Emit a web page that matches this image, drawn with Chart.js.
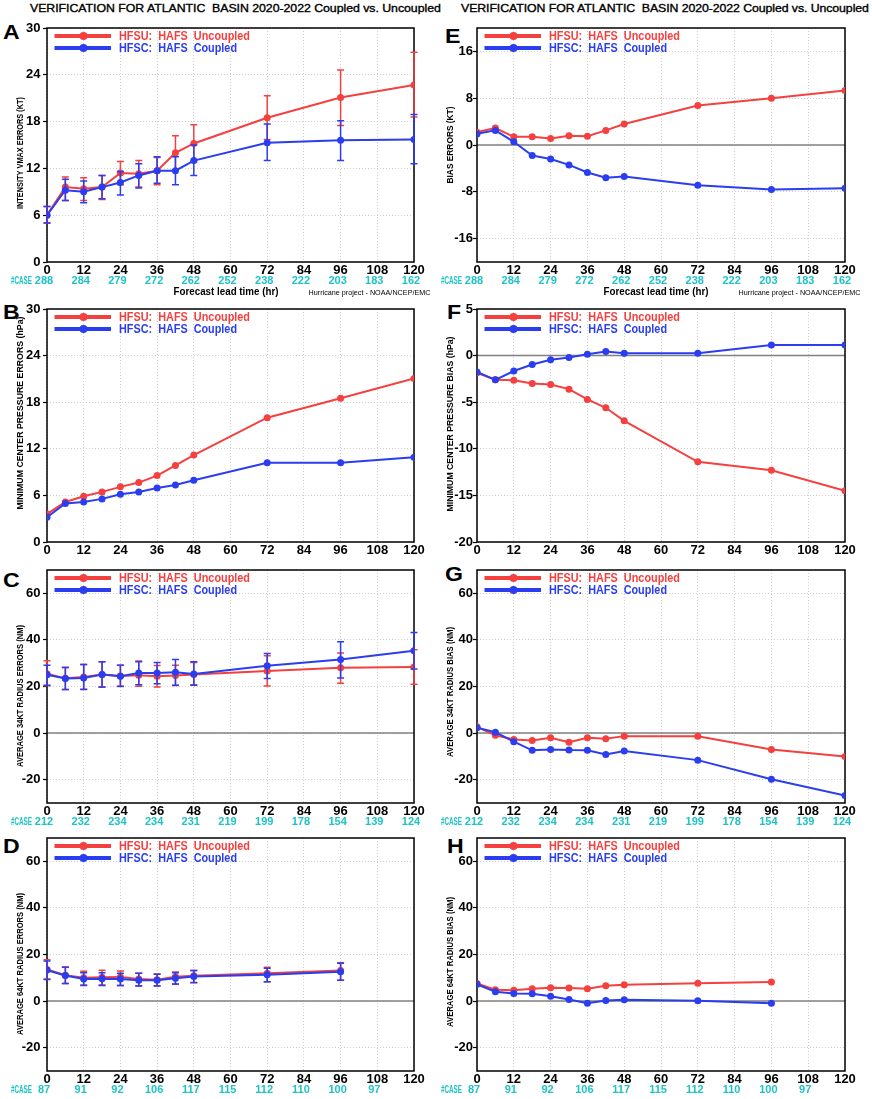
<!DOCTYPE html>
<html>
<head>
<meta charset="utf-8">
<script src="https://cdn.jsdelivr.net/npm/chart.js@4.4.1/dist/chart.umd.min.js"></script>
<style>
  body { margin: 0; background: #fff; width: 872px; height: 1099px; position: relative; overflow: hidden; font-family: "Liberation Sans", Arial, sans-serif; }
  .pane { position: absolute; }
  .title { position: absolute; top: 2.5px; font-size: 11px; line-height: 11px; white-space: pre; color: #000; transform-origin: 0 0; transform: scaleX(1.12); -webkit-text-stroke: 0.35px #000; }
  .tag { position: absolute; font-weight: bold; font-size: 21px; line-height: 21px; transform-origin: 0 0; transform: scaleX(1.1); }
</style>
</head>
<body>
<div class="title" id="t0" style="left:30px">VERIFICATION FOR ATLANTIC  BASIN 2020-2022 Coupled vs. Uncoupled</div>
<div class="title" id="t1" style="left:461px">VERIFICATION FOR ATLANTIC  BASIN 2020-2022 Coupled vs. Uncoupled</div>
<div class="tag" style="left:3px;top:20.5px">A</div>
<div class="tag" style="left:3px;top:301px">B</div>
<div class="tag" style="left:3px;top:569px">C</div>
<div class="tag" style="left:3px;top:834.5px">D</div>
<div class="tag" style="left:445px;top:25px">E</div>
<div class="tag" style="left:447px;top:301px">F</div>
<div class="tag" style="left:445px;top:563px">G</div>
<div class="tag" style="left:447px;top:834.5px">H</div>
<script>
// forecast hours and case counts
var hours = [0, 6, 12, 18, 24, 30, 36, 42, 48, 72, 96, 120];
var xTicks = [0, 12, 24, 36, 48, 60, 72, 84, 96, 108, 120];
var casesAE = [288, 284, 279, 272, 262, 252, 238, 222, 203, 183, 162];
var casesCG = [212, 232, 234, 234, 231, 219, 199, 178, 154, 139, 124];
var casesDH = [87, 91, 92, 106, 117, 115, 112, 110, 100, 97];

// y tick labels
var ticksErr = [0, 6, 12, 18, 24, 30];
var ticksBiasKt = [-16, -8, 0, 8, 16];
var ticksBiasHpa = [-20, -15, -10, -5, 0, 5];
var ticksRadius = [-20, 0, 20, 40, 60];

// A: intensity vmax errors (kt)
var vmaxErrU   = [6.0, 9.6, 9.4, 9.6, 11.4, 11.3, 11.7, 14.0, 15.2, 18.5, 21.1, 22.7];
var vmaxErrUHi = [7.1, 10.9, 10.8, 11.1, 12.9, 13.0, 13.4, 16.2, 17.6, 21.3, 24.6, 26.9];
var vmaxErrULo = [5.0, 7.9, 7.9, 8.0, 9.9, 9.6, 9.9, 11.8, 12.8, 15.7, 17.5, 18.6];
var vmaxErrC   = [6.0, 9.2, 9.0, 9.6, 10.2, 11.1, 11.7, 11.7, 13.0, 15.3, 15.6, 15.7];
var vmaxErrCHi = [7.1, 10.6, 10.4, 11.1, 11.6, 12.6, 13.5, 13.5, 15.0, 17.7, 18.1, 18.9];
var vmaxErrCLo = [5.0, 7.9, 7.6, 8.1, 8.6, 9.5, 10.1, 9.9, 11.1, 13.0, 13.0, 12.6];

// E: intensity bias (kt)
var vmaxBiasU = [2.2, 2.9, 1.4, 1.4, 1.1, 1.6, 1.5, 2.5, 3.6, 6.75, 8.0, 9.3];
var vmaxBiasC = [1.9, 2.5, 0.55, -1.8, -2.4, -3.4, -4.7, -5.6, -5.4, -6.9, -7.6, -7.4];

// B: min pressure errors (hPa)
var pminErrU = [3.6, 5.15, 5.9, 6.45, 7.1, 7.65, 8.55, 9.85, 11.2, 16.0, 18.5, 21.05];
var pminErrC = [3.2, 4.95, 5.15, 5.55, 6.15, 6.45, 6.95, 7.35, 7.95, 10.2, 10.2, 10.9];

// F: min pressure bias (hPa)
var pminBiasU = [-1.85, -2.6, -2.65, -3.0, -3.1, -3.6, -4.7, -5.6, -7.0, -11.4, -12.3, -14.5];
var pminBiasC = [-1.75, -2.6, -1.65, -0.95, -0.45, -0.2, 0.15, 0.45, 0.25, 0.25, 1.15, 1.15];

// C: 34kt radius errors (nm)
var r34ErrU   = [25.5, 23.5, 24.1, 25.1, 24.5, 24.8, 24.4, 24.7, 25.1, 26.7, 28.0, 28.4];
var r34ErrUHi = [31.0, 28.1, 29.4, 30.6, 29.1, 30.9, 29.0, 29.1, 30.3, 33.2, 34.4, 35.8];
var r34ErrULo = [20.3, 18.7, 18.8, 19.7, 20.0, 20.1, 19.8, 20.4, 20.8, 20.2, 21.4, 21.0];
var r34ErrC   = [25.0, 23.4, 23.7, 25.1, 24.4, 25.8, 25.8, 26.1, 25.4, 28.9, 31.6, 35.3];
var r34ErrCHi = [29.1, 28.3, 29.4, 30.6, 29.1, 30.6, 30.3, 31.6, 30.6, 34.2, 39.2, 43.2];
var r34ErrCLo = [20.5, 18.7, 18.7, 19.8, 20.1, 20.8, 21.2, 20.5, 20.5, 23.4, 23.7, 27.5];

// G: 34kt radius bias (nm)
var r34BiasU = [2.7, -0.9, -2.7, -3.2, -2.0, -3.9, -2.0, -2.4, -1.3, -1.4, -7.0, -10.0];
var r34BiasC = [2.3, 0.4, -3.7, -7.4, -7.0, -7.3, -7.4, -9.2, -7.7, -11.6, -19.8, -26.8];

// D: 64kt radius errors (nm), out to 96h
var r64ErrU   = [13.6, 11.1, 10.0, 10.2, 10.3, 9.5, 9.2, 10.5, 10.9, 11.9, 13.1];
var r64ErrUHi = [17.7, 14.6, 12.8, 13.2, 12.9, 11.9, 11.6, 12.5, 13.1, 14.5, 16.5];
var r64ErrULo = [9.5, 7.6, 6.9, 6.9, 6.7, 6.6, 6.6, 7.2, 7.9, 8.3, 9.0];
var r64ErrC   = [13.3, 11.0, 9.5, 9.6, 9.5, 9.0, 8.9, 9.8, 10.6, 11.3, 12.6];
var r64ErrCHi = [17.2, 14.5, 12.2, 12.2, 11.9, 11.9, 11.5, 12.2, 13.1, 14.1, 16.2];
var r64ErrCLo = [9.3, 7.6, 6.7, 6.7, 6.7, 6.5, 6.5, 7.3, 8.0, 8.3, 9.0];

// H: 64kt radius bias (nm)
var r64BiasU = [7.6, 4.9, 4.7, 5.3, 5.7, 5.6, 5.3, 6.6, 7.0, 7.7, 8.2];
var r64BiasC = [7.2, 4.0, 3.3, 3.2, 2.1, 0.7, -0.9, 0.3, 0.6, 0.1, -0.9];

var labelU = 'HFSU:  HAFS  Uncoupled';
var labelC = 'HFSC:  HAFS  Coupled';

// layout
var FONT = '"Liberation Sans", Arial, sans-serif';
var RED = '#f4403f', BLUE = '#2a3df0', CYAN = '#1fc3c6';
var colLeft = [47, 477], colW = [367, 368];
var rowTop = [28, 309, 570, 838], rowH = [234, 233, 233, 233];
var AXW = 47, PADT = 12, XAH = 14, PADB = 26, PADR = 22;

var panels = [
  {col: 0, row: 0, u: vmaxErrU, c: vmaxErrC, err: [vmaxErrULo, vmaxErrUHi, vmaxErrCLo, vmaxErrCHi], min: 0, max: 30, ticks: ticksErr,
   yTitle: 'INTENSITY VMAX ERRORS (KT)', tMid: 153, tLen: 112, cases: casesAE, footer: true},
  {col: 0, row: 1, u: pminErrU, c: pminErrC, min: 0, max: 30, ticks: ticksErr,
   yTitle: 'MINIMUM CENTER PRESSURE ERRORS (hPa)', tMid: 413, tLen: 193},
  {col: 0, row: 2, u: r34ErrU, c: r34ErrC, err: [r34ErrULo, r34ErrUHi, r34ErrCLo, r34ErrCHi], min: -30, max: 70, ticks: ticksRadius,
   yTitle: 'AVERAGE 34KT RADIUS ERRORS (NM)', tMid: 696, tLen: 142, cases: casesCG},
  {col: 0, row: 3, u: r64ErrU, c: r64ErrC, err: [r64ErrULo, r64ErrUHi, r64ErrCLo, r64ErrCHi], min: -30, max: 70, ticks: ticksRadius,
   yTitle: 'AVERAGE 64KT RADIUS ERRORS (NM)', tMid: 964, tLen: 142, cases: casesDH},
  {col: 1, row: 0, u: vmaxBiasU, c: vmaxBiasC, min: -20, max: 20, ticks: ticksBiasKt,
   yTitle: 'BIAS ERRORS (KT)', tMid: 145, tLen: 77, cases: casesAE, footer: true},
  {col: 1, row: 1, u: pminBiasU, c: pminBiasC, min: -20, max: 5, ticks: ticksBiasHpa,
   yTitle: 'MINIMUM CENTER PRESSURE BIAS (hPa)', tMid: 424, tLen: 175},
  {col: 1, row: 2, u: r34BiasU, c: r34BiasC, min: -30, max: 70, ticks: ticksRadius,
   yTitle: 'AVERAGE 34KT RADIUS BIAS (NM)', tMid: 692, tLen: 130, cases: casesCG},
  {col: 1, row: 3, u: r64BiasU, c: r64BiasC, min: -30, max: 70, ticks: ticksRadius,
   yTitle: 'AVERAGE 64KT RADIUS BIAS (NM)', tMid: 962, tLen: 130, cases: casesDH}
];

// spread the titles to the width they take in the picture
[['t0', 411], ['t1', 408]].forEach(function (t) {
  var el = document.getElementById(t[0]);
  var n = el.textContent.length;
  var w = el.offsetWidth * 1.12;
  el.style.letterSpacing = ((t[1] - w) / n / 1.12) + 'px';
});

function fitText(ctx, text, x, y, w, align) {
  var s = w / ctx.measureText(text).width;
  ctx.save();
  ctx.translate(x, y);
  ctx.scale(s, 1);
  ctx.textAlign = align || 'left';
  ctx.fillText(text, 0, 0);
  ctx.restore();
}

function pts(ys) {
  return ys.map(function (v, i) { return {x: hours[i], y: v}; });
}

var decor = {
  id: 'decor',
  beforeDatasetsDraw: function (chart) {
    var ctx = chart.ctx, a = chart.chartArea, ys = chart.scales.y;
    ctx.save();
    if (ys.min < 0) {
      var y0 = ys.getPixelForValue(0);
      ctx.strokeStyle = '#808080';
      ctx.lineWidth = 1.5;
      ctx.beginPath(); ctx.moveTo(a.left, y0); ctx.lineTo(a.right, y0); ctx.stroke();
    }
    ctx.strokeStyle = '#000';
    ctx.lineWidth = 1.5;
    ctx.strokeRect(a.left, a.top, a.right - a.left, a.bottom - a.top);
    ctx.restore();
  },
  afterDatasetDraw: function (chart, args) {
    var ds = chart.data.datasets[args.index];
    if (!ds.errLo) return;
    var ctx = chart.ctx, xs = chart.scales.x, ys = chart.scales.y;
    ctx.save();
    ctx.strokeStyle = ds.borderColor;
    ctx.lineWidth = 1.5;
    ds.errLo.forEach(function (lo, i) {
      var x = xs.getPixelForValue(hours[i]);
      var y1 = ys.getPixelForValue(lo), y2 = ys.getPixelForValue(ds.errHi[i]);
      ctx.beginPath();
      ctx.moveTo(x, y1); ctx.lineTo(x, y2);
      ctx.moveTo(x - 3.5, y1); ctx.lineTo(x + 3.5, y1);
      ctx.moveTo(x - 3.5, y2); ctx.lineTo(x + 3.5, y2);
      ctx.stroke();
    });
    ctx.restore();
  },
  afterDraw: function (chart) {
    var p = chart.options.plugins.decor, ctx = chart.ctx, a = chart.chartArea, xs = chart.scales.x;
    ctx.save();
    ctx.textBaseline = 'middle';
    // legend
    var legW = [131, 118];
    chart.data.datasets.forEach(function (ds, i) {
      var y = a.top + 8 + i * 12;
      ctx.strokeStyle = ds.borderColor;
      ctx.lineWidth = 4;
      ctx.beginPath(); ctx.moveTo(a.left + 7.5, y); ctx.lineTo(a.left + 64, y); ctx.stroke();
      ctx.fillStyle = ds.borderColor;
      ctx.beginPath(); ctx.arc(a.left + 36.5, y, 4, 0, 2 * Math.PI); ctx.fill();
      ctx.font = 'bold 12px ' + FONT;
      fitText(ctx, ds.label, a.left + 72, y + 0.5, legW[i], 'left');
    });
    // y title
    ctx.fillStyle = '#000';
    ctx.font = 'bold 9px ' + FONT;
    ctx.save();
    ctx.translate(a.left - 26, p.tMid - p.oy);
    ctx.rotate(-Math.PI / 2);
    fitText(ctx, p.yTitle, 0, 0, p.tLen, 'center');
    ctx.restore();
    // case counts
    if (p.cases) {
      ctx.fillStyle = CYAN;
      ctx.font = 'bold 11px ' + FONT;
      var cy = a.bottom + 19.3;
      fitText(ctx, '#CASE', a.left - 15, cy, 21, 'right');
      ctx.textAlign = 'center';
      p.cases.forEach(function (n, i) {
        ctx.fillText(String(n), xs.getPixelForValue(xTicks[i]) - 3, cy);
      });
    }
    if (p.footer) {
      ctx.fillStyle = '#000';
      ctx.font = 'bold 11px ' + FONT;
      fitText(ctx, 'Forecast lead time (hr)', a.left + 179, a.bottom + 29.5, 105, 'center');
      ctx.font = '7px ' + FONT;
      fitText(ctx, 'Hurricane project - NOAA/NCEP/EMC', a.left + 261.5, a.bottom + 31.5, 122, 'left');
    }
    ctx.restore();
  }
};

panels.forEach(function (p) {
  p.ox = colLeft[p.col] - AXW;
  p.oy = rowTop[p.row] - PADT;
  var box = document.createElement('div');
  box.className = 'pane';
  box.style.left = p.ox + 'px';
  box.style.top = p.oy + 'px';
  box.style.width = (AXW + colW[p.col] + PADR) + 'px';
  box.style.height = (PADT + rowH[p.row] + XAH + PADB) + 'px';
  var cv = document.createElement('canvas');
  box.appendChild(cv);
  document.body.appendChild(box);

  var tickFont = {family: FONT, size: 13, weight: 'bold'};
  var datasets = [
    {label: labelU, data: pts(p.u), borderColor: RED, backgroundColor: RED, order: 1},
    {label: labelC, data: pts(p.c), borderColor: BLUE, backgroundColor: BLUE, order: 0}
  ];
  if (p.err) {
    datasets[0].errLo = p.err[0]; datasets[0].errHi = p.err[1];
    datasets[1].errLo = p.err[2]; datasets[1].errHi = p.err[3];
  }

  new Chart(cv, {
    type: 'line',
    data: {datasets: datasets},
    options: {
      responsive: true,
      maintainAspectRatio: false,
      animation: false,
      events: [],
      layout: {padding: {top: PADT, right: PADR, bottom: PADB, left: 0}},
      elements: {
        line: {borderWidth: 2, tension: 0},
        point: {radius: 3.5, borderWidth: 0}
      },
      plugins: {legend: {display: false}, tooltip: {enabled: false}, decor: p},
      scales: {
        x: {
          type: 'linear', min: 0, max: 120,
          afterFit: function (s) { s.height = XAH; },
          afterBuildTicks: function (s) { s.ticks = xTicks.map(function (v) { return {value: v}; }); },
          grid: {color: '#cfcfcf', lineWidth: 1, drawTicks: false},
          border: {display: false, dash: [1, 2]},
          ticks: {color: '#000', font: tickFont, padding: 1, maxRotation: 0, autoSkip: false}
        },
        y: {
          min: p.min, max: p.max,
          afterFit: function (s) { s.width = AXW; },
          afterBuildTicks: function (s) { s.ticks = p.ticks.map(function (v) { return {value: v}; }); },
          grid: {color: '#cfcfcf', lineWidth: 1, drawTicks: true, tickLength: 4, tickColor: '#000', tickWidth: 1.2},
          border: {display: false, dash: [1, 2]},
          ticks: {color: '#000', font: tickFont, padding: p.col ? 0 : 2.5}
        }
      }
    },
    plugins: [decor]
  });
});
</script>
</body>
</html>
